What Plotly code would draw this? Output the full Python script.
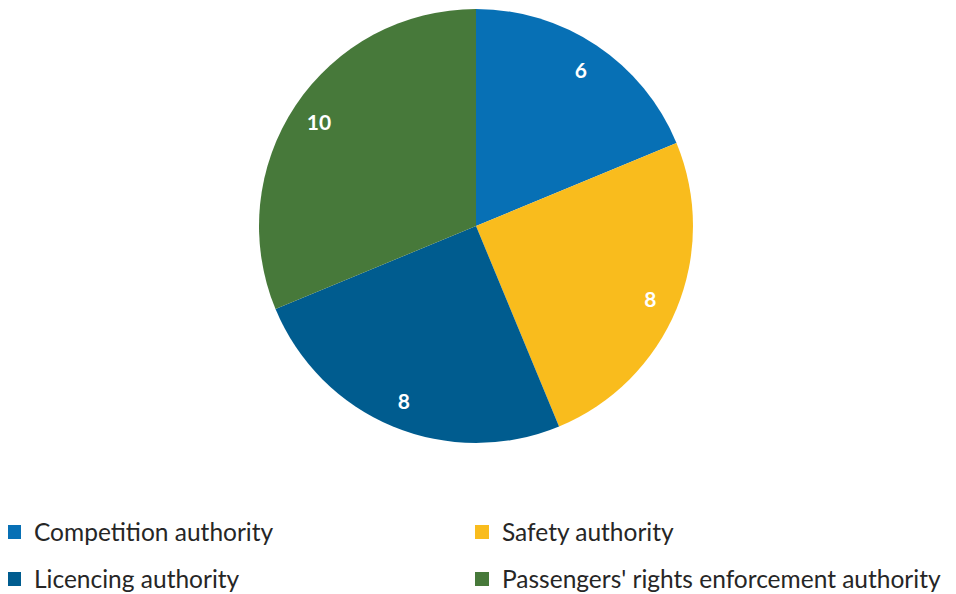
import plotly.graph_objects as go

labels = ["Competition authority", "Safety authority", "Licencing authority",
          "Passengers' rights enforcement authority"]
values = [6, 8, 8, 10]
colors = ["#0770B5", "#F9BC1D", "#005C8F", "#47793A"]

# page body keeps an 8px margin, so the figure is 8px smaller on each axis
W, H = 948, 586
cx, cy, r = 468, 218, 217
dom = dict(x=[(cx - r) / W, (cx + r) / W], y=[(H - cy - r) / H, (H - cy + r) / H])

fig = go.Figure()
# the pie itself
fig.add_trace(go.Pie(
    labels=labels, values=values, sort=False, direction="clockwise", rotation=0,
    marker=dict(colors=colors, line=dict(width=0)),
    textinfo="none", hoverinfo="label+value", showlegend=False, domain=dom,
))
# transparent ring on top, only to put the value labels near the rim
fig.add_trace(go.Pie(
    labels=labels, values=values, sort=False, direction="clockwise", rotation=0,
    hole=0.74, marker=dict(colors=["rgba(0,0,0,0)"] * 4, line=dict(width=0)),
    textinfo="value", textposition="inside", insidetextorientation="horizontal",
    textfont=dict(family="Lato", size=21, color="white", weight="bold"),
    hoverinfo="skip", showlegend=False, domain=dom,
))

# legend: 2 x 2 grid, one small legend per entry
legend_names = ["legend", "legend2", "legend3", "legend4"]
legend_xy = [(-14, 524), (454, 524), (-14, 571), (454, 571)]
for lab, col, lg in zip(labels, colors, legend_names):
    fig.add_trace(go.Scatter(
        x=[None], y=[None], mode="markers", name=lab, legend=lg,
        marker=dict(symbol="square", size=14, color=col),
    ))

legends = {}
for lg, (px, py) in zip(legend_names, legend_xy):
    legends[lg] = dict(x=px / W, xanchor="left", y=(H - py) / H, yanchor="middle",
                       font=dict(family="Lato", size=24.5, color="#262626"),
                       bgcolor="rgba(0,0,0,0)")

fig.update_layout(
    width=W, height=H,
    margin=dict(l=0, r=0, t=0, b=0, autoexpand=False),
    paper_bgcolor="white", plot_bgcolor="white",
    font=dict(family="Lato", size=24, color="#262626"),
    xaxis=dict(visible=False), yaxis=dict(visible=False),
    **legends,
)

fig.write_html("out.html")
